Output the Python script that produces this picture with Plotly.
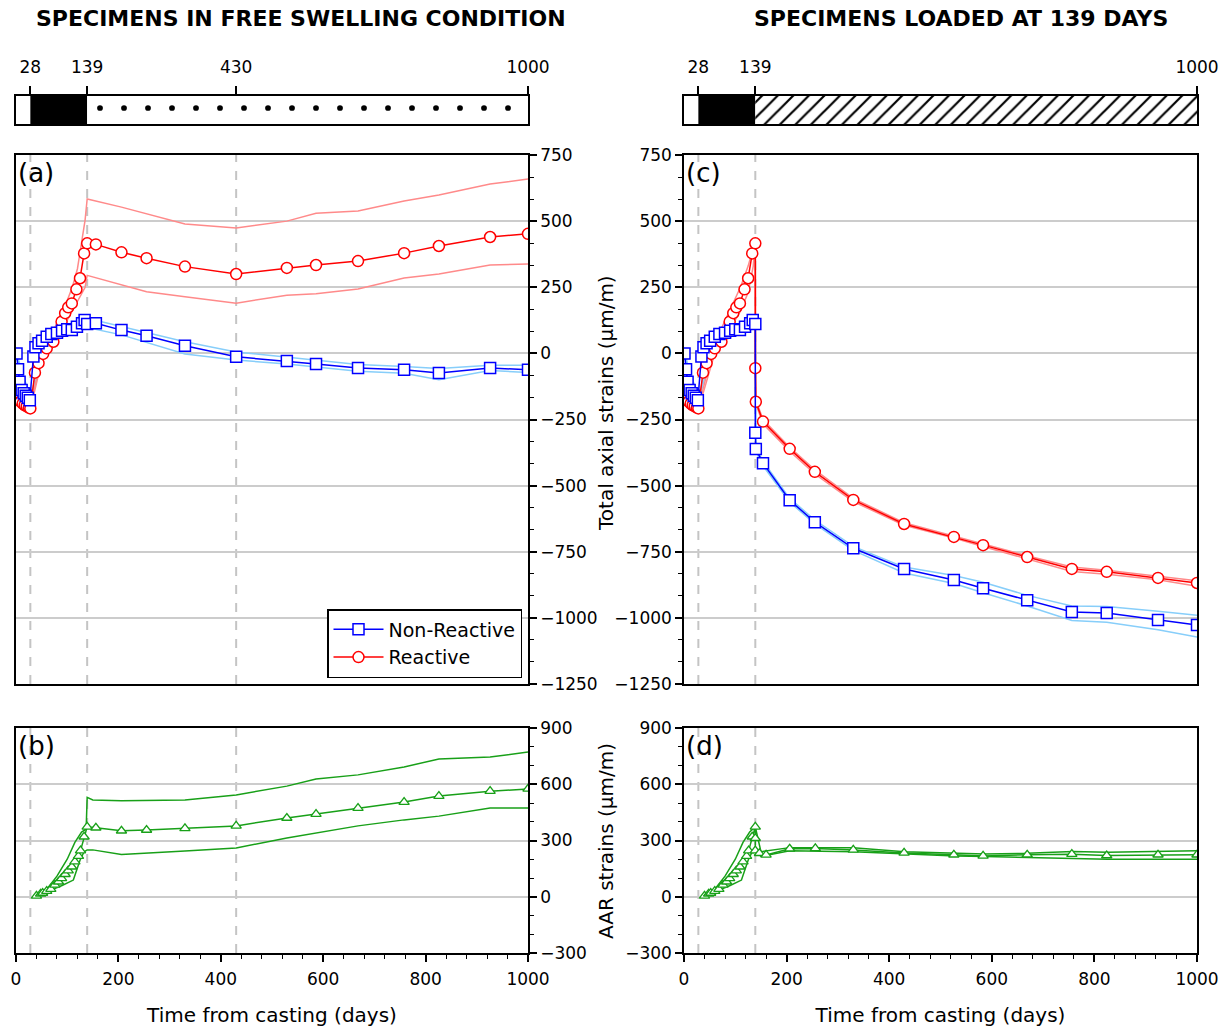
import plotly.graph_objects as go

# ---------------- DATA ----------------
# Panel (a)/(c) shared early data (before loading)
nr_t_early = [1, 4, 7, 11, 15, 19, 23, 27, 34, 38, 44, 51, 60, 69, 80, 90, 100, 109, 119, 129, 134, 139]
nr_v_early = [0, -60, -107, -138, -151, -160, -168, -177, -12, 23, 38, 48, 63, 73, 78, 86, 91, 88, 101, 114, 126, 111]
re_t_early = [1, 5, 9, 13, 17, 21, 25, 28, 37, 44, 53, 60, 73, 83, 89, 96, 102, 109, 118, 125, 133, 139]
re_v_early = [-150, -170, -182, -190, -196, -200, -205, -208, -73, -37, -2, 19, 44, 76, 120, 152, 174, 189, 242, 284, 378, 416]

# Panel (a) free swelling after 139 days
late_t = [156, 206, 255, 330, 430, 529, 586, 668, 758, 826, 926, 1000]
nr_a_late = [114, 88, 67, 29, -13, -29, -40, -55, -62, -74, -55, -62]
re_a_late = [412, 382, 360, 328, 300, 323, 334, 349, 379, 406, 440, 452]

# Envelopes (a)
nr_env_t = [0, 28, 60, 100, 139, 206, 330, 430, 529, 668, 758, 826, 926, 1000]
nr_a_up = [5, -168, 70, 100, 133, 101, 44, 5, -15, -42, -50, -57, -45, -45]
nr_a_lo = [-5, -186, 55, 82, 98, 70, -2, -25, -40, -68, -75, -100, -65, -72]
re_a_up_t = [0, 28, 50, 70, 86, 100, 110, 120, 135, 139, 206, 330, 430, 529, 586, 668, 758, 826, 926, 1000]
re_a_up = [-140, -205, -10, 70, 140, 200, 250, 320, 505, 584, 553, 489, 474, 500, 530, 538, 576, 599, 640, 659]
re_a_lo_t = [0, 28, 50, 70, 90, 110, 125, 135, 139, 206, 255, 330, 430, 529, 586, 668, 758, 826, 926, 1000]
re_a_lo = [-160, -212, -30, 20, 90, 160, 210, 250, 295, 258, 233, 214, 190, 220, 225, 243, 285, 300, 334, 338]

# Panel (c) loaded at 139 days
load_t = [139, 140, 154, 206, 255, 330, 429, 526, 583, 669, 756, 824, 924, 1000]
nr_c_late = [-300, -362, -415, -555, -638, -737, -815, -857, -888, -933, -978, -982, -1008, -1027]
re_c_late = [-56, -183, -258, -361, -448, -554, -645, -694, -725, -770, -815, -826, -849, -868]
nr_c_up = [-295, -355, -408, -548, -630, -730, -808, -840, -865, -915, -955, -957, -975, -990]
nr_c_lo = [-305, -370, -425, -562, -645, -745, -830, -870, -905, -955, -1010, -1017, -1045, -1072]
re_c_up = [-50, -175, -250, -355, -440, -548, -640, -690, -722, -765, -808, -820, -843, -860]
re_c_lo = [-62, -190, -266, -370, -456, -560, -650, -698, -730, -778, -825, -835, -856, -880]
nr_c_env_t_early = [0, 28, 60, 100, 139]
nr_c_up_early = [5, -168, 70, 100, 133]
nr_c_lo_early = [-5, -186, 55, 82, 98]
re_c_env_t_early = [0, 28, 60, 86, 110, 125, 135, 139]
re_c_up_early = [-140, -205, 40, 150, 250, 330, 400, 416]
re_c_lo_early = [-160, -212, 0, 80, 160, 230, 330, 416]

# AAR strains (b)/(d)
aar_t_early = [40, 48, 52, 60, 68, 76, 83, 89, 96, 102, 109, 115, 122, 126, 133, 139]
aar_v_early = [5, 15, 20, 30, 41, 63, 80, 98, 120, 139, 160, 187, 217, 246, 320, 373]
aar_b_late = [368, 352, 356, 365, 378, 420, 441, 473, 505, 537, 563, 575]
aar_b_up_t = [40, 60, 80, 100, 115, 128, 137, 139, 150, 206, 330, 430, 529, 586, 668, 758, 826, 926, 1000]
aar_b_up = [0, 40, 110, 200, 290, 345, 360, 530, 516, 512, 516, 543, 590, 628, 650, 692, 735, 745, 772]
aar_b_lo_t = [40, 60, 72, 90, 112, 125, 133, 139, 150, 206, 330, 430, 529, 586, 668, 758, 826, 926, 1000]
aar_b_lo = [0, 20, 40, 60, 89, 195, 240, 250, 250, 226, 244, 260, 313, 340, 378, 410, 430, 473, 473]

aar_d_late_t = [139, 139, 147, 160, 206, 256, 330, 429, 526, 583, 669, 756, 824, 924, 1000]
aar_d_late = [312, 246, 232, 223, 256, 258, 250, 234, 224, 218, 224, 227, 220, 224, 224]
aar_d_up_t = [40, 60, 80, 100, 115, 128, 139, 150, 206, 330, 430, 529, 586, 668, 758, 826, 926, 1000]
aar_d_up = [0, 40, 110, 200, 290, 345, 372, 240, 262, 262, 240, 230, 228, 232, 242, 238, 242, 245]
aar_d_lo_t = [40, 60, 72, 90, 112, 125, 133, 139, 150, 206, 330, 430, 529, 586, 668, 758, 826, 926, 1000]
aar_d_lo = [0, 20, 40, 60, 89, 195, 240, 250, 215, 245, 240, 228, 218, 215, 210, 205, 200, 200, 200]

# Timeline bars
stage_days_left = [28, 139, 430, 1000]
stage_days_right = [28, 139, 1000]
ref_lines_left = [28, 139, 430]
ref_lines_right = [28, 139]

time_ticks = [0, 200, 400, 600, 800, 1000]

# ---------------- STYLE ----------------
FONT = "DejaVu Sans"
BLUE = "#0000ff"
RED = "#ff0000"
LBLUE = "#87cefa"
LRED = "#ff8a8a"
GREEN = "#18a018"
GRID = "#cccccc"
W, H = 1231, 1030

def px_x(p):
    return p / W

def px_y(p):
    return 1 - p / H

xa = [px_x(16), px_x(528)]
xc = [px_x(684), px_x(1197)]
y_top = [px_y(684), px_y(155)]
y_bot = [px_y(953), px_y(728)]
y_bar = [px_y(124), px_y(96)]

fig = go.Figure()

def line(x, y, color, xa_, ya_, width=1.5, marker=None, name=None):
    kw = dict(x=x, y=y, xaxis=xa_, yaxis=ya_, line=dict(color=color, width=width),
              showlegend=bool(name), hoverinfo="skip")
    if marker:
        kw["mode"] = "lines+markers"
        if marker == "triangle":
            kw["marker"] = dict(symbol="triangle-up", size=9, color="white",
                                line=dict(color=color, width=1.3))
        else:
            kw["marker"] = dict(symbol=marker, size=11, color="white",
                                line=dict(color=color, width=1.5))
    else:
        kw["mode"] = "lines"
    if name:
        kw["name"] = name
    fig.add_trace(go.Scatter(**kw))

# ----- Panel (a) -----
line(nr_env_t, nr_a_up, LBLUE, "x", "y")
line(nr_env_t, nr_a_lo, LBLUE, "x", "y")
line(re_a_up_t, re_a_up, LRED, "x", "y")
line(re_a_lo_t, re_a_lo, LRED, "x", "y")
line(re_t_early + late_t, re_v_early + re_a_late, RED, "x", "y", marker="circle",
     name="Reactive")
line(nr_t_early + late_t, nr_v_early + nr_a_late, BLUE, "x", "y", marker="square",
     name="Non-Reactive")

# ----- Panel (c) -----
line(nr_c_env_t_early + load_t, nr_c_up_early + nr_c_up, LBLUE, "x3", "y3")
line(nr_c_env_t_early + load_t, nr_c_lo_early + nr_c_lo, LBLUE, "x3", "y3")
line(re_c_env_t_early + load_t, re_c_up_early + re_c_up, LRED, "x3", "y3")
line(re_c_env_t_early + load_t, re_c_lo_early + re_c_lo, LRED, "x3", "y3")
line(re_t_early + load_t, re_v_early + re_c_late, RED, "x3", "y3", marker="circle")
line(nr_t_early + load_t, nr_v_early + nr_c_late, BLUE, "x3", "y3", marker="square")

# ----- Panel (b) -----
line(aar_b_up_t, aar_b_up, GREEN, "x2", "y2")
line(aar_b_lo_t, aar_b_lo, GREEN, "x2", "y2")
line(aar_t_early + late_t, aar_v_early + aar_b_late, GREEN, "x2", "y2", marker="triangle")

# ----- Panel (d) -----
line(aar_d_up_t, aar_d_up, GREEN, "x4", "y4")
line(aar_d_lo_t, aar_d_lo, GREEN, "x4", "y4")
line(aar_t_early + aar_d_late_t, aar_v_early + aar_d_late, GREEN, "x4", "y4", marker="triangle")

# ----- Timeline bars -----
def stage_bars(xa_, ya_, days, pattern_shape, psize, solid):
    fig.add_trace(go.Bar(x=[days[1] - days[0]], base=[days[0]],
                         y=[0], orientation="h", width=1, xaxis=xa_, yaxis=ya_,
                         marker=dict(color="black", line=dict(width=0)),
                         showlegend=False, hoverinfo="skip"))
    fig.add_trace(go.Bar(x=[days[-1] - days[1]], base=[days[1]],
                         y=[0], orientation="h", width=1, xaxis=xa_, yaxis=ya_,
                         marker=dict(color="white", line=dict(width=0),
                                     pattern=dict(shape=pattern_shape, fgcolor="black",
                                                  fgopacity=1, bgcolor="white",
                                                  size=psize, solidity=solid,
                                                  fillmode="overlay")),
                         showlegend=False, hoverinfo="skip"))

stage_bars("x5", "y5", stage_days_left, ".", 24, 0.045)
stage_bars("x6", "y6", stage_days_right, "/", 11, 0.2)

axis_common = dict(showline=True, linecolor="black", linewidth=1.5, mirror=True,
                   zeroline=False, automargin=False,
                   tickfont=dict(family=FONT, size=17, color="black"),
                   tickcolor="black", tickwidth=1.5)

def xaxis(domain, anchor, labels):
    d = dict(axis_common, domain=domain, anchor=anchor, range=[0, 1000], showgrid=False)
    if labels:
        d.update(tickmode="array", tickvals=time_ticks, ticks="outside", ticklen=7,
                 ticklabelstandoff=3,
                 minor=dict(dtick=40, tick0=0, ticks="outside", ticklen=4,
                            tickcolor="black", tickwidth=1.2),
                 title=dict(text="Time from casting (days)",
                            font=dict(family=FONT, size=20, color="black"), standoff=20))
    else:
        d.update(showticklabels=False, ticks="")
    return d

def yaxis(domain, anchor, side, rng, dtick, mdtick):
    return dict(axis_common, domain=domain, anchor=anchor, side=side, range=rng,
                tickmode="linear", tick0=0, dtick=dtick, ticks="outside", ticklen=7,
                showgrid=True, gridcolor=GRID, gridwidth=1.5,
                minor=dict(dtick=mdtick, tick0=0, ticks="outside", ticklen=4,
                           tickcolor="black", tickwidth=1.2, showgrid=False))

def baraxes(domain, ticks, xname, yname):
    xd = dict(axis_common, domain=domain, anchor=yname, range=[0, 1000], side="top",
              tickmode="array", tickvals=ticks, ticks="outside", ticklen=8,
              ticklabelstandoff=6, showgrid=False)
    yd = dict(showline=True, linecolor="black", linewidth=1.5, mirror=True,
              domain=y_bar, anchor=xname, range=[-0.5, 0.5], showticklabels=False,
              ticks="", showgrid=False, zeroline=False, automargin=False)
    return xd, yd

x5, y5 = baraxes(xa, stage_days_left, "x5", "y5")
x6, y6 = baraxes(xc, stage_days_right, "x6", "y6")

fig.update_layout(
    width=W, height=H, margin=dict(l=0, r=0, t=0, b=0, autoexpand=False),
    plot_bgcolor="white", paper_bgcolor="white",
    barmode="overlay",
    font=dict(family=FONT, color="black"),
    xaxis=xaxis(xa, "y", False),
    yaxis=yaxis(y_top, "x", "right", [-1250, 750], 250, 250 / 3),
    xaxis2=xaxis(xa, "y2", True),
    yaxis2=yaxis(y_bot, "x2", "right", [-300, 900], 300, 100),
    xaxis3=xaxis(xc, "y3", False),
    yaxis3=yaxis(y_top, "x3", "left", [-1250, 750], 250, 250 / 3),
    xaxis4=xaxis(xc, "y4", True),
    yaxis4=yaxis(y_bot, "x4", "left", [-300, 900], 300, 100),
    xaxis5=x5, yaxis5=y5, xaxis6=x6, yaxis6=y6,
    legend=dict(x=px_x(522), y=px_y(678), xanchor="right", yanchor="bottom",
                bordercolor="black", borderwidth=1.5, bgcolor="white",
                font=dict(family=FONT, size=19, color="black"),
                traceorder="reversed", itemwidth=50, tracegroupgap=0),
)

# Dashed reference lines
for xr, yr, days in [("x", "y", ref_lines_left), ("x2", "y2", ref_lines_left),
                     ("x3", "y3", ref_lines_right), ("x4", "y4", ref_lines_right)]:
    for d in days:
        fig.add_shape(type="line", xref=xr, yref=yr + " domain", x0=d, x1=d, y0=0, y1=1,
                      line=dict(color="#c4c4c4", width=2, dash="dash"), layer="below")

# Panel labels
for lab, xr, yr in [("(a)", "x", "y"), ("(b)", "x2", "y2"), ("(c)", "x3", "y3"), ("(d)", "x4", "y4")]:
    fig.add_annotation(text=lab, xref=xr + " domain", yref=yr + " domain", x=0.0, y=1.0,
                       xanchor="left", yanchor="top", showarrow=False, yshift=-1,
                       font=dict(family=FONT, size=26, color="black"))

# Y-axis titles (between the panels)
fig.add_annotation(text="Total axial strains (μm/m)", xref="paper", yref="paper",
                   x=px_x(606), y=px_y(403), textangle=-90, showarrow=False,
                   xanchor="center", yanchor="middle",
                   font=dict(family=FONT, size=20, color="black"))
fig.add_annotation(text="AAR strains (μm/m)", xref="paper", yref="paper",
                   x=px_x(606), y=px_y(841), textangle=-90, showarrow=False,
                   xanchor="center", yanchor="middle",
                   font=dict(family=FONT, size=20, color="black"))

# Titles
fig.add_annotation(text="<b>SPECIMENS IN FREE SWELLING CONDITION</b>", xref="paper", yref="paper",
                   x=px_x(301), y=px_y(18), showarrow=False, xanchor="center", yanchor="middle",
                   font=dict(family=FONT, size=22, color="black"))
fig.add_annotation(text="<b>SPECIMENS LOADED AT 139 DAYS</b>", xref="paper", yref="paper",
                   x=px_x(961), y=px_y(18), showarrow=False, xanchor="center", yanchor="middle",
                   font=dict(family=FONT, size=22, color="black"))

fig.write_html("out.html")
